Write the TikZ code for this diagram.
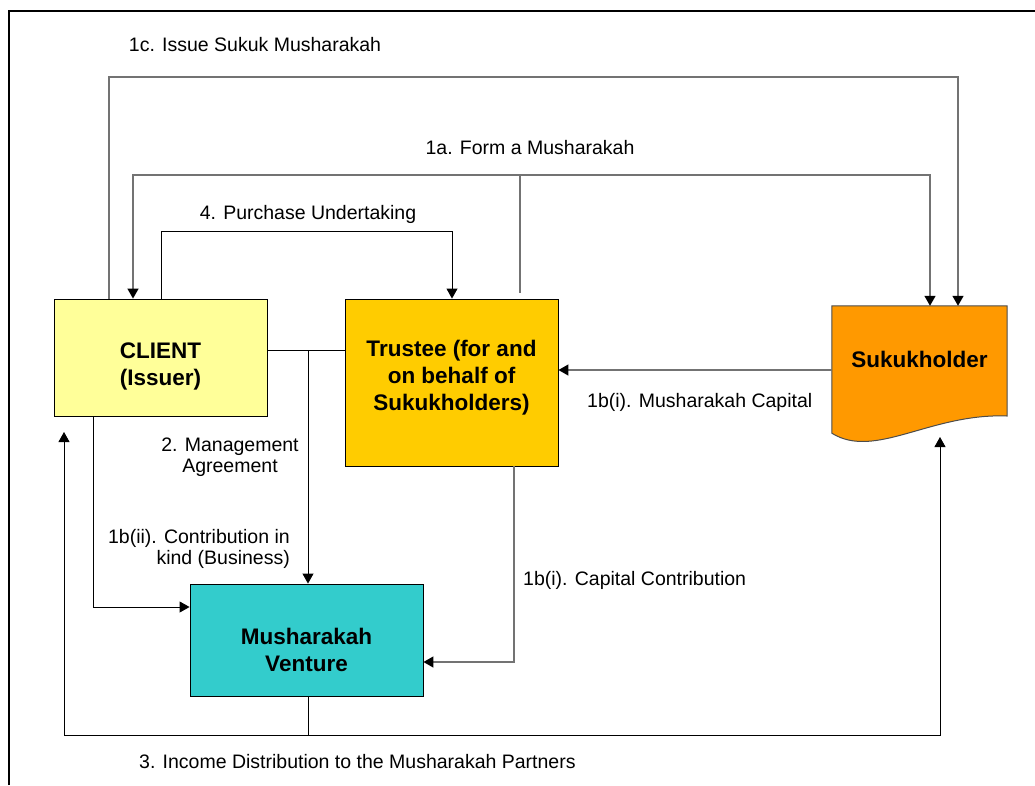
\documentclass[tikz,border=0pt]{standalone}
\usepackage{fontspec}
\setmainfont{Liberation Sans}
\usetikzlibrary{arrows.meta}
\definecolor{clientfill}{HTML}{FFFF99}
\definecolor{trusteefill}{HTML}{FFCC00}
\definecolor{sukukfill}{HTML}{FF9900}
\definecolor{venturefill}{HTML}{33CCCC}
\tikzset{
  box/.style={draw=black, line width=0.9pt, inner sep=0pt},
  boxtext/.style={font=\fontsize{22.5}{27}\selectfont\bfseries, align=center},
  flow/.style={draw=black, line width=0.9pt},
  greyflow/.style={draw=black!55, line width=1.4pt},
  tip/.style={-{Triangle[width=11pt,length=10pt,color=black]}},
  lbl/.style={font=\fontsize{19.5}{21}\selectfont, inner sep=0pt}
}

\begin{document}
\begin{tikzpicture}[x=1pt,y=-1pt]
\useasboundingbox (0,0) rectangle (1035,785);
\draw[line width=1.5pt] (9,785) -- (9,11) -- (1035,11);

% parties
\node[box, fill=clientfill, minimum width=213pt, minimum height=117pt,
  label={[boxtext, yshift=-9pt]center:CLIENT\\(Issuer)}] (client) at (160.5,357.5) {};
\node[box, fill=trusteefill, minimum width=213pt, minimum height=167pt,
  label={[boxtext, yshift=5pt]center:Trustee (for and\\on behalf of\\Sukukholders)}] (trustee) at (451.5,382.5) {};
\node[box, fill=venturefill, minimum width=233pt, minimum height=112pt,
  label={[boxtext, yshift=-10pt]center:Musharakah\\Venture}] (venture) at (306.5,640) {};
\node[minimum width=175pt, minimum height=127pt, inner sep=0pt] (sukuk) at (919.5,369.5) {};
\fill[sukukfill] (sukuk.north west) -- (sukuk.north east) -- (1007,416)
  .. controls (930,413) and (875,460) .. (sukuk.south west) -- cycle;
\draw[black!70, line width=1pt] (sukuk.north west) -- (sukuk.north east) -- (1007,416)
  .. controls (930,413) and (875,460) .. (sukuk.south west) -- cycle;
\node[boxtext] (sukuktext) at (919.5,359) {Sukukholder};

% bend points
\coordinate (is1) at (109,77);
\coordinate (is2) at (958,77);
\coordinate (fm) at (520,175);
\coordinate (fml) at (133,175);
\coordinate (fmr) at (930,175);
\coordinate (pu1) at (161,231);
\coordinate (pu2) at (452,231);
\coordinate (ma) at (308,350);
\coordinate (ck) at (93,607);
\coordinate (cc) at (514,662);
\coordinate (mc) at (832,370);
\coordinate (id) at (308,735);
\coordinate (idl) at (64,735);
\coordinate (idr) at (940,735);
\coordinate (idlt) at (64,432);
\coordinate (idrt) at (940,437);

% 1c
\draw[greyflow, tip] (client.north -| is1) -- (is1) -- (is2) -- (is2 |- sukuk.north);
% 1a
\draw[greyflow, shorten <=6pt] (trustee.north -| fm) -- (fm);
\draw[greyflow, tip] (fm) -- (fml) -- (fml |- client.north);
\draw[greyflow, tip] (fm) -- (fmr) -- (fmr |- sukuk.north);
% 4
\draw[flow, tip] (client.north -| pu1) -- (pu1) -- (pu2) -- (pu2 |- trustee.north);
% 2
\draw[flow] (client.east |- ma) -- (trustee.west |- ma);
\draw[flow, tip] (ma) -- (ma |- venture.north);
% 1b(ii)
\draw[flow, tip] (client.south -| ck) -- (ck) -- (venture.west |- ck);
% 1b(i)
\draw[greyflow, tip] (trustee.south -| cc) -- (cc) -- (venture.east |- cc);
\draw[greyflow, tip] (mc) -- (trustee.east |- mc);
% 3
\draw[flow] (venture.south -| id) -- (id);
\draw[flow, tip] (id) -- (idl) -- (idlt);
\draw[flow, tip] (id) -- (idr) -- (idrt);

% labels
\node[lbl] (l1c) at (255,45) {1c. Issue Sukuk Musharakah};
\node[lbl] (l1a) at (530,148) {1a. Form a Musharakah};
\node[lbl] (l4) at (308,214) {4. Purchase Undertaking};
\node[lbl, align=center] (l2) at (230,457) {2. Management\\Agreement};
\node[lbl, align=right, anchor=east] (l1bii) at (290,549) {1b(ii). Contribution in\\kind (Business)};
\node[lbl, anchor=west] (l1bi) at (523,580) {1b(i). Capital Contribution};
\node[lbl, anchor=west] (l1bimc) at (587,402) {1b(i). Musharakah Capital};
\node[lbl, anchor=west] (l3) at (139,762) {3. Income Distribution to the Musharakah Partners};
\end{tikzpicture}
\end{document}
